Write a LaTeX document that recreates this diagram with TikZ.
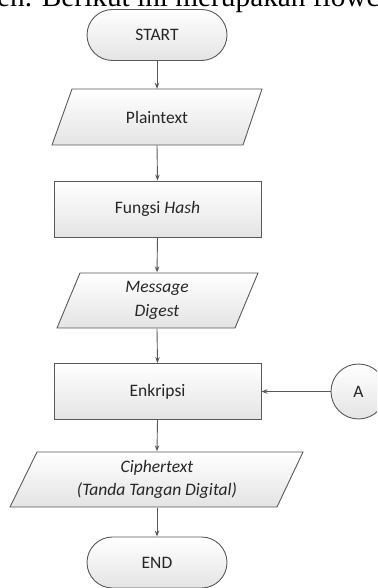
\documentclass[tikz,border=0pt]{standalone}
\usepackage{fontspec}
\setmainfont{Carlito}
\newfontfamily\bodyserif{Liberation Serif}
\usetikzlibrary{arrows.meta}
\definecolor{edge}{HTML}{595959}
\definecolor{ink}{HTML}{262626}
\definecolor{shadeb}{HTML}{E4E4E4}
\begin{document}
\begin{tikzpicture}[x=1pt,y=-1pt,
  label text/.style={text=ink,font=\fontsize{17.5}{23.5}\selectfont,align=center,inner sep=0pt},
  filled/.style={draw=edge,line width=0.9pt,top color=white,bottom color=shadeb},
  terminal/.style={filled,label text,rectangle,rounded corners=25.5pt,minimum width=140pt,minimum height=51pt},
  processbox/.style={filled,label text,rectangle,minimum width=207pt,minimum height=56pt},
  iohold/.style={label text,rectangle,minimum width=150pt,minimum height=56pt},
  connector/.style={filled,label text,circle,minimum size=55pt},
  flow/.style={draw=edge,line width=0.9pt,-{Stealth[length=6pt,width=4.5pt]}}]
\useasboundingbox (0,0) rectangle (377,588);
\clip (0,0) rectangle (377,588);

% running text of the page above the chart
\node[anchor=base west,inner sep=0pt,font=\bodyserif\fontsize{29.3}{35}\selectfont] (intro) at (-3,6.5)
  {en. Berikut ini merupakan flowchart};

% parallelogram outlines for the data symbols
\path[filled] (72,89) -- (262,89) -- (243,145) -- (52,145) -- cycle;
\path[filled] (80,273) -- (258,273) -- (235,328) -- (57,328) -- cycle;
\path[filled] (37,452) -- (303,452) -- (277,507) -- (10,507) -- cycle;

% nodes
\node[terminal] (start) at (157,35) {START};
\node[iohold] (plain) at (157,117) {Plaintext};
\node[processbox] (hash) at (157.5,209) {Fungsi \textit{Hash}};
\node[iohold] (digest) at (157,300.5) {\textit{Message}\\\textit{Digest}};
\node[processbox] (enc) at (157.5,391.5) {Enkripsi};
\node[iohold] (cipher) at (157,479.5) {\textit{Ciphertext}\\\textit{(Tanda Tangan Digital)}};
\node[terminal] (end) at (157,562.5) {END};
\node[connector] (conA) at (358.5,391.5) {A};

% flow lines
\draw[flow] (start.south) -- (plain.north);
\draw[flow] (plain.south) -- (hash.north);
\draw[flow] (hash.south) -- (digest.north);
\draw[flow] (digest.south) -- (enc.north);
\draw[flow] (enc.south) -- (cipher.north);
\draw[flow] (cipher.south) -- (end.north);
\draw[flow] (conA.west) -- (enc.east);
\end{tikzpicture}
\end{document}
